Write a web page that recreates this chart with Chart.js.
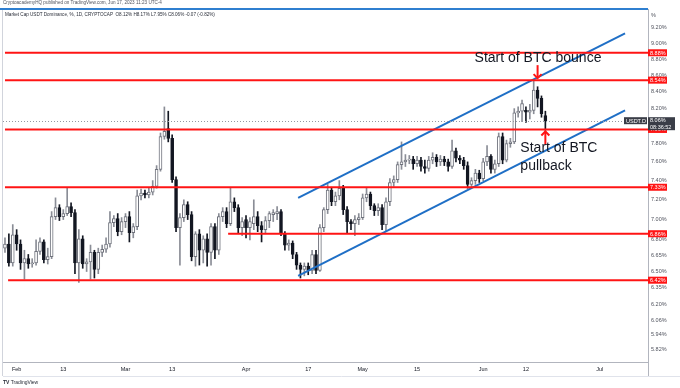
<!DOCTYPE html>
<html>
<head>
<meta charset="utf-8">
<script src="https://cdn.jsdelivr.net/npm/chart.js@4.4.1/dist/chart.umd.min.js"></script>
<style>
  html,body{margin:0;padding:0;background:#fff}
  #wrap{position:relative;width:680px;height:388px;overflow:hidden;font-family:"Liberation Sans",Arial,sans-serif}
  #box{position:absolute;left:0;top:0;width:680px;height:388px}
  .tiny{position:absolute;white-space:nowrap;color:#50535e;line-height:1}
  #pub{left:3px;top:1px;font-size:4.6px}
  #title{left:5px;top:13px;font-size:4.6px;color:#2a2e39}
  #topline{position:absolute;left:0;top:8px;width:648px;height:2px;background:#2f7fd0}
  #logo{left:3px;top:380px;font-size:5px;color:#2a2e39}
</style>
</head>
<body>
<div id="wrap">
  <div id="box"><canvas id="chart"></canvas></div>
  <div id="topline"></div>
  <div class="tiny" id="pub">CryptoacademyHQ published on TradingView.com, Jun 17, 2023 11:23 UTC-4</div>
  <div class="tiny" id="title">Market Cap USDT Dominance, %, 1D, CRYPTOCAP&nbsp; O8.12% H8.17% L7.95% C8.06% -0.07 (-0.82%)</div>
  <div class="tiny" id="logo"><b>TV</b> TradingView</div>
</div>
<script>
// daily candles, index 0 = Jan 29 2023 ... 139 = Jun 17 2023
const open = [
  6.72,6.76,6.58,6.85,6.76,6.58,6.62,6.57,6.58,6.69,
  6.78,6.61,6.64,7.03,7.12,7.03,7.06,7.13,7.07,6.58,
  6.81,6.57,6.59,6.68,6.52,6.68,6.71,6.76,6.97,7.01,
  6.88,6.98,7.03,6.87,6.93,7.24,7.27,7.25,7.28,7.34,
  7.52,7.88,7.97,7.86,7.41,6.92,7.02,7.15,7.05,6.64,
  6.86,6.70,6.81,6.68,6.93,6.70,7.03,7.08,6.96,7.18,
  7.12,6.92,7.00,6.92,6.96,7.03,6.94,6.90,6.99,7.05,
  7.06,7.08,6.86,6.75,6.77,6.66,6.56,6.52,6.55,6.51,
  6.66,6.51,6.92,7.10,7.30,7.18,7.24,7.32,7.10,6.98,
  6.96,7.00,7.02,7.22,7.26,7.14,7.09,7.12,6.95,7.18,
  7.38,7.41,7.57,7.60,7.62,7.63,7.58,7.62,7.55,7.53,
  7.62,7.65,7.60,7.63,7.60,7.55,7.72,7.64,7.62,7.56,
  7.36,7.40,7.48,7.42,7.60,7.66,7.52,7.58,7.88,7.62,
  7.80,7.82,8.15,8.17,8.18,8.16,8.18,8.42,8.32,8.12
];
const high = [
  6.82,6.86,6.95,6.90,6.80,6.70,6.66,6.62,6.80,6.82,
  6.80,6.72,7.08,7.22,7.15,7.10,7.32,7.17,7.10,6.90,
  6.84,6.62,6.75,6.70,6.72,6.75,6.82,7.08,7.04,7.06,
  7.02,7.06,7.08,6.96,7.30,7.31,7.30,7.32,7.40,7.56,
  7.92,8.22,8.17,7.90,7.44,7.06,7.20,7.18,7.08,6.88,
  6.90,6.84,6.86,6.96,6.96,7.06,7.12,7.12,7.33,7.22,
  7.15,7.02,7.04,7.02,7.20,7.08,6.98,7.03,7.08,7.10,
  7.13,7.10,6.88,6.80,6.79,6.68,6.58,6.58,6.58,6.70,
  6.70,6.95,7.12,7.36,7.33,7.28,7.40,7.35,7.13,7.00,
  7.04,7.06,7.26,7.32,7.28,7.16,7.16,7.15,7.22,7.42,
  7.45,7.60,7.82,7.68,7.67,7.66,7.66,7.65,7.62,7.66,
  7.70,7.68,7.67,7.66,7.63,7.84,7.75,7.67,7.65,7.60,
  7.43,7.52,7.51,7.64,7.78,7.68,7.62,7.92,7.92,7.84,
  7.86,8.20,8.22,8.30,8.22,8.25,8.54,8.46,8.35,8.17
];
const low = [
  6.68,6.55,6.55,6.70,6.52,6.43,6.53,6.54,6.56,6.66,
  6.58,6.57,6.62,7.00,6.99,7.00,7.04,7.03,6.48,6.40,
  6.53,6.50,6.43,6.44,6.48,6.64,6.68,6.73,6.93,6.84,
  6.85,6.92,6.78,6.82,6.90,7.20,7.22,7.22,7.25,7.32,
  7.50,7.85,7.82,7.38,6.88,6.56,6.98,7.00,6.60,6.55,
  6.56,6.58,6.55,6.56,6.62,6.66,6.98,6.92,6.94,7.08,
  6.86,6.84,6.82,6.80,6.90,6.88,6.78,6.86,6.92,6.98,
  7.00,6.84,6.70,6.70,6.62,6.52,6.44,6.46,6.47,6.48,
  6.48,6.50,6.88,7.06,7.14,7.14,7.20,7.05,6.86,6.90,
  6.84,6.95,7.00,7.18,7.10,7.04,7.04,6.90,6.88,7.14,
  7.34,7.38,7.52,7.55,7.58,7.52,7.55,7.50,7.48,7.50,
  7.58,7.55,7.56,7.56,7.50,7.53,7.60,7.58,7.52,7.32,
  7.33,7.36,7.38,7.40,7.56,7.48,7.48,7.55,7.58,7.60,
  7.76,7.80,8.10,8.05,8.04,8.08,8.14,8.22,8.10,7.95
];
const close = [
  6.76,6.58,6.85,6.76,6.58,6.62,6.57,6.58,6.69,6.78,
  6.61,6.64,7.03,7.12,7.03,7.06,7.13,7.07,6.58,6.81,
  6.57,6.59,6.68,6.52,6.68,6.71,6.76,6.97,7.01,6.88,
  6.98,7.03,6.87,6.93,7.24,7.27,7.25,7.28,7.34,7.52,
  7.88,7.94,7.86,7.41,6.92,7.02,7.15,7.05,6.64,6.86,
  6.70,6.81,6.68,6.93,6.70,7.03,7.08,6.96,7.18,7.12,
  6.92,6.98,6.92,6.98,7.03,6.94,6.90,6.99,7.06,7.07,
  7.08,6.86,6.75,6.77,6.66,6.56,6.52,6.55,6.51,6.66,
  6.51,6.92,7.10,7.30,7.18,7.24,7.32,7.10,6.98,6.96,
  7.00,7.02,7.22,7.26,7.14,7.09,7.12,6.95,7.18,7.38,
  7.41,7.57,7.60,7.62,7.63,7.58,7.62,7.55,7.53,7.62,
  7.65,7.60,7.63,7.60,7.55,7.72,7.64,7.62,7.56,7.36,
  7.40,7.48,7.42,7.60,7.66,7.52,7.58,7.88,7.62,7.80,
  7.82,8.15,8.17,8.26,8.16,8.18,8.42,8.32,8.14,8.06
];

// axis ticks
const xTickPos  = [3, 15, 31, 43, 62, 78, 92, 106, 123, 134, 153];
const xTickText = ['Feb','13','Mar','13','Apr','17','May','15','Jun','12','Jul'];
const yTicks = [9.20,9.00,8.80,8.60,8.40,8.20,8.00,7.80,7.60,7.40,7.20,7.00,6.80,6.65,6.50,6.35,6.20,6.06,5.94,5.82];

// horizontal levels drawn on chart (value, first day index)
const levelVals = [8.88, 8.54, 7.96, 7.33, 6.86, 6.42];
const levelFrom = [0, 0, 0, 0, 57.4, 0.8];

// rising channel
const chanX     = [75.4, 159.5];
const chanUpper = [7.22, 9.13];
const chanLower = [6.46, 8.18];

const lastPrice = 8.06;
const bounceIdx = 137, pullIdx = 139;

const X_MIN = -0.51, X_MAX = 165.4;
const RED = '#ff1414', BLUE = '#1f6fc6', INK = '#131722';

const idx = close.map((c,i)=>i);
const up = idx.map(i => close[i] >= open[i]);

const datasets = [];
levelVals.forEach((v,k) => datasets.push({
  type:'line', data:[{x:levelFrom[k], y:v},{x:X_MAX, y:v}],
  borderColor:RED, borderWidth:2, pointRadius:0, fill:false
}));
[chanUpper, chanLower].forEach(arr => datasets.push({
  type:'line', data:chanX.map((x,k)=>({x:x, y:arr[k]})),
  borderColor:BLUE, borderWidth:2, pointRadius:0, fill:false
}));
datasets.push({
  type:'bar', grouped:false, barThickness:3, minBarLength:1,
  data: idx.map(i => ({x:i, y:[Math.min(open[i],close[i]), Math.max(open[i],close[i])]})),
  backgroundColor: idx.map(i => up[i] ? '#ffffff' : INK),
  borderColor: idx.map(i => up[i] ? '#6f727c' : INK),
  borderWidth:1, borderSkipped:false
});
datasets.push({
  type:'bar', grouped:false, barThickness:1,
  data: idx.map(i => ({x:i, y:[low[i], high[i]]})),
  backgroundColor: idx.map(i => up[i] ? '#8a8d96' : INK)
});

function tag(ctx, x, y, w, h, bg, lines, fg){
  ctx.fillStyle = bg;
  ctx.fillRect(x, y - h/2, w, h);
  ctx.fillStyle = fg || '#fff';
  ctx.textAlign = 'left'; ctx.textBaseline = 'middle';
  if(lines.length === 1){ ctx.fillText(lines[0], x+2, y+0.5); }
  else { ctx.fillText(lines[0], x+2, y-3); ctx.fillText(lines[1], x+2, y+3.5); }
}

function arrow(ctx, x, y0, y1){
  const dir = y1 > y0 ? 1 : -1;
  ctx.strokeStyle = RED; ctx.lineWidth = 2;
  ctx.beginPath(); ctx.moveTo(x, y0); ctx.lineTo(x, y1); ctx.stroke();
  ctx.beginPath(); ctx.moveTo(x-4, y1 - dir*4); ctx.lineTo(x, y1); ctx.lineTo(x+4, y1 - dir*4); ctx.stroke();
}

const overlay = {
  id:'overlay',
  afterDatasetsDraw(chart){
    const {ctx, chartArea:a, scales:{x, y}} = chart;
    ctx.save();
    // last price line
    const py = Math.round(y.getPixelForValue(lastPrice)) + 0.5;
    ctx.strokeStyle = '#9598a1'; ctx.lineWidth = 1; ctx.setLineDash([1,2]);
    ctx.beginPath(); ctx.moveTo(a.left, py); ctx.lineTo(a.right - 25, py); ctx.stroke();
    ctx.setLineDash([]);
    // notes
    const bx = x.getPixelForValue(bounceIdx), by = y.getPixelForValue(levelVals[1]);
    arrow(ctx, bx, by - 15, by - 2);
    const ux = x.getPixelForValue(pullIdx), uy = y.getPixelForValue(levelVals[2]);
    arrow(ctx, ux, uy + 15, uy + 2);
    ctx.fillStyle = INK; ctx.font = '14px "Liberation Sans", Arial, sans-serif';
    ctx.textAlign = 'left'; ctx.textBaseline = 'middle';
    ctx.fillText('Start of BTC bounce', bx - 63, by - 22);
    ctx.fillText('Start of BTC', ux - 25, uy + 19);
    ctx.fillText('pullback', ux - 25, uy + 37);
    // left frame
    ctx.strokeStyle = '#d1d4dc'; ctx.lineWidth = 1;
    ctx.beginPath(); ctx.moveTo(a.left - 0.5, a.top); ctx.lineTo(a.left - 0.5, a.bottom + 14); ctx.stroke();
    ctx.restore();
  },
  afterDraw(chart){
    const {ctx, chartArea:a, scales:{y}} = chart;
    ctx.save();
    ctx.font = '5.5px "Liberation Sans", Arial, sans-serif';
    // axis frame below plot
    ctx.strokeStyle = '#b2b5be'; ctx.lineWidth = 1;
    ctx.beginPath(); ctx.moveTo(a.right + 0.5, a.bottom); ctx.lineTo(a.right + 0.5, a.bottom + 14); ctx.stroke();
    ctx.strokeStyle = '#e0e3eb';
    ctx.beginPath(); ctx.moveTo(a.left, a.bottom + 14.5); ctx.lineTo(680, a.bottom + 14.5); ctx.stroke();
    ctx.fillStyle = '#50535e'; ctx.textAlign = 'left'; ctx.textBaseline = 'middle';
    ctx.fillText('%', a.right + 3, 15);
    levelVals.forEach(v => tag(ctx, a.right, y.getPixelForValue(v), 19, 7, RED, [v.toFixed(2)+'%']));
    const py = y.getPixelForValue(lastPrice);
    tag(ctx, a.right, py + 3, 27, 13, '#3a3d47', [lastPrice.toFixed(2)+'%', '08:36:52']);
    tag(ctx, a.right - 24, py, 23, 7, '#3a3d47', ['USDT.D']);
    ctx.restore();
  }
};

new Chart(document.getElementById('chart'), {
  type:'bar',
  data:{ datasets: datasets },
  options:{
    responsive:true, maintainAspectRatio:false, animation:false,
    layout:{ padding:{ left:3, top:9, right:0, bottom:12 } },
    plugins:{ legend:{display:false}, tooltip:{enabled:false} },
    scales:{
      x:{ type:'linear', min:X_MIN, max:X_MAX, offset:false,
        afterBuildTicks: s => { s.ticks = xTickPos.map(v => ({value:v})); },
        afterFit: s => { s.height = 14; },
        grid:{ display:false, drawTicks:false }, border:{ color:'#b2b5be' },
        ticks:{ autoSkip:false, maxRotation:0, padding:4, color:INK,
          font:{ family:'"Liberation Sans", Arial', size:5.5 },
          callback: (v, i) => xTickText[i] } },
      y:{ type:'logarithmic', position:'right', min:5.713, max:9.452,
        afterBuildTicks: s => { s.ticks = yTicks.map(v => ({value:v})); },
        afterFit: s => { s.width = 32; },
        grid:{ display:false, drawTicks:false }, border:{ color:'#b2b5be' },
        ticks:{ padding:3, color:'#50535e',
          font:{ family:'"Liberation Sans", Arial', size:5.5 },
          callback: v => Number(v).toFixed(2)+'%' } }
    }
  },
  plugins:[overlay]
});
</script>
</body>
</html>
